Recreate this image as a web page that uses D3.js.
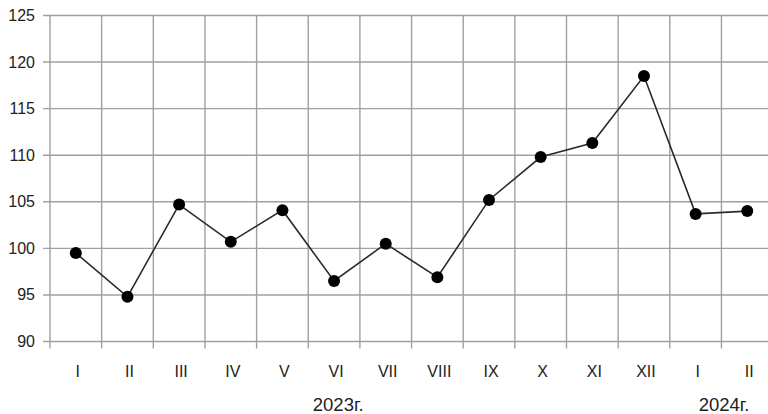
<!DOCTYPE html>
<html>
<head>
<meta charset="utf-8">
<script src="https://cdn.jsdelivr.net/npm/d3@7"></script>
<style>
  body { margin: 0; background: #fff; }
  text { font-family: Arial, "Liberation Sans", sans-serif; fill: #222; }
</style>
</head>
<body>
<div id="chart"></div>
<script>
// месяцы (2023 — I..XII, 2024 — I..II)
var months = ["I","II","III","IV","V","VI","VII","VIII","IX","X","XI","XII","I","II"];
var values = [99.5, 94.8, 104.7, 100.7, 104.1, 96.5, 100.5, 96.9, 105.2, 109.8, 111.3, 118.5, 103.7, 104.0];
var yTicks = [90, 95, 100, 105, 110, 115, 120, 125];
var years = [{label: "2023г.", at: 5, shift: 0.58}, {label: "2024г.", at: 13, shift: 0.05}];

var w = 768, h = 414;
var svg = d3.select("#chart").append("svg")
    .attr("width", w)
    .attr("height", h);

var idx = d3.range(months.length);
var x = d3.scaleBand().domain(idx).range([50, 50 + 14 * 51.65]).padding(0);
var y = d3.scaleLinear().domain([90, 125]).range([341.5, 15.5]);

var grid = "#a0a0a0";

// горизонтальные линии сетки + засечки слева
svg.append("g").selectAll("line").data(yTicks).enter()
    .append("line")
    .attr("x1", 43).attr("x2", w)
    .attr("y1", d => y(d)).attr("y2", d => y(d))
    .attr("stroke", grid).attr("stroke-width", 1.4);

// вертикальные линии (границы месяцев)
var bounds = idx.map(i => x(i)).concat([x(13) + x.bandwidth()]);
svg.append("g").selectAll("line").data(bounds).enter()
    .append("line")
    .attr("x1", d => d).attr("x2", d => d)
    .attr("y1", y(125)).attr("y2", y(90) + 7)
    .attr("stroke", grid).attr("stroke-width", 1.4);

// подписи оси Y
svg.append("g").selectAll("text").data(yTicks).enter()
    .append("text")
    .attr("x", 35)
    .attr("y", d => y(d) + 5.5)
    .attr("text-anchor", "end")
    .style("font-size", "16px")
    .text(d => d);

// подписи месяцев
svg.append("g").selectAll("text").data(idx).enter()
    .append("text")
    .attr("x", i => x(i) + x.bandwidth() / 2 + 2)
    .attr("y", 377)
    .attr("text-anchor", "middle")
    .style("font-size", "16px")
    .text(i => months[i]);

// годы
svg.append("g").selectAll("text").data(years).enter()
    .append("text")
    .attr("x", d => x(d.at) + x.bandwidth() * d.shift)
    .attr("y", 411)
    .attr("text-anchor", "middle")
    .style("font-size", "18.5px")
    .text(d => d.label);

// линия
var line = d3.line()
    .x((d, i) => x(i) + x.bandwidth() / 2)
    .y(d => y(d));

svg.append("path")
    .datum(values)
    .attr("d", line)
    .attr("fill", "none")
    .attr("stroke", "#2a2a2a")
    .attr("stroke-width", 1.6);

// точки
svg.append("g").selectAll("circle").data(values).enter()
    .append("circle")
    .attr("cx", (d, i) => x(i) + x.bandwidth() / 2)
    .attr("cy", d => y(d))
    .attr("r", 6)
    .attr("fill", "#000");
</script>
</body>
</html>
